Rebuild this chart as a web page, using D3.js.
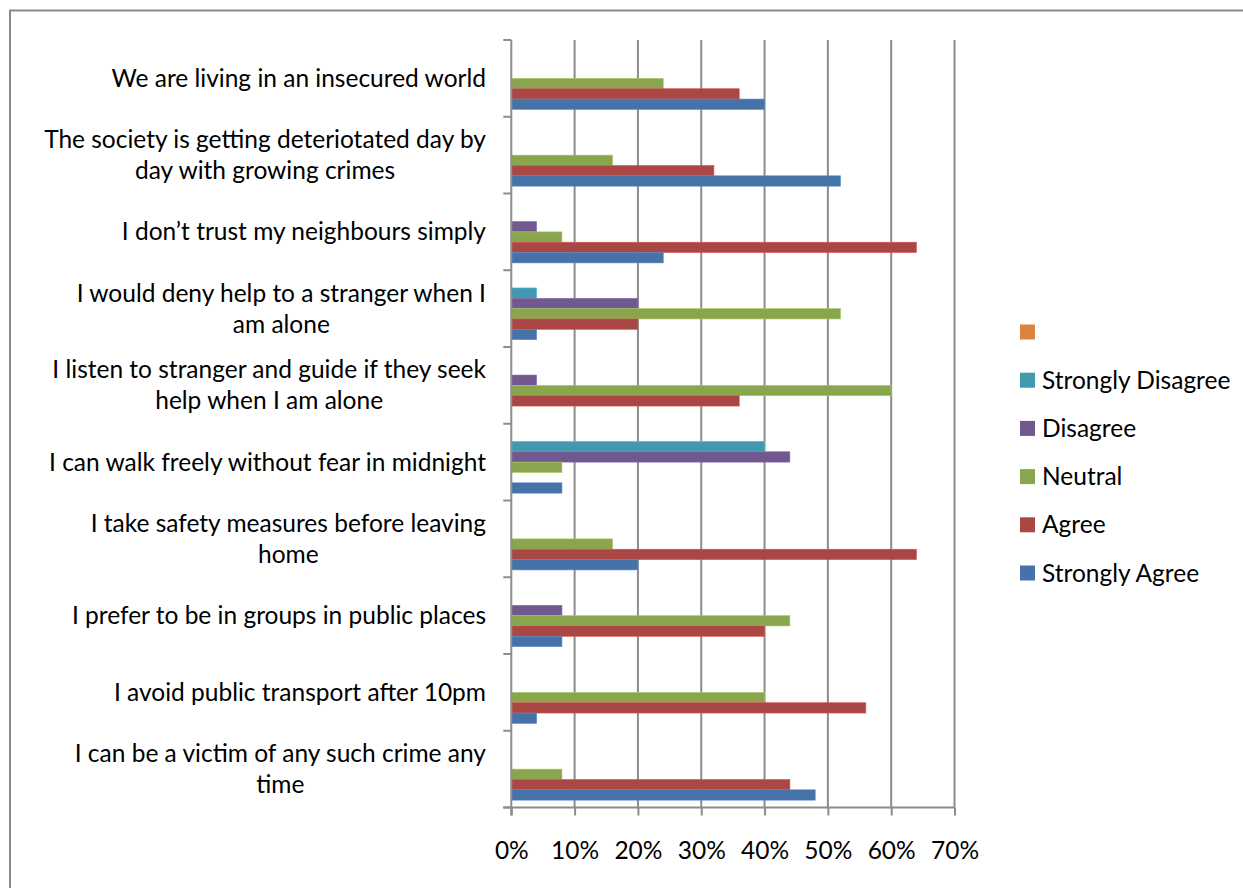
<!DOCTYPE html>
<html>
<head>
<meta charset="utf-8">
<script src="https://cdn.jsdelivr.net/npm/d3@7"></script>
<style>
  html, body { margin: 0; padding: 0; background: #fff; }
  svg { display: block; font-family: Lato, "Open Sans", sans-serif; }
</style>
</head>
<body>
<svg id="chart" width="1243" height="888"></svg>
<script>
// Statements, top to bottom; "\n" marks where a label wraps
const categories = [
  "We are living in an insecured world",
  "The society is getting deteriotated day by\nday with growing crimes",
  "I don\u2019t trust my neighbours simply",
  "I would deny help to a stranger when I\nam alone",
  "I listen to stranger and guide if they seek\nhelp when I am alone",
  "I can walk freely without fear in midnight",
  "I take safety measures before leaving\nhome",
  "I prefer to be in groups in public places",
  "I avoid public transport after 10pm",
  "I can be a victim of any such crime any\ntime"
];

// Series names (legend order, top to bottom) and the share of responses
const seriesNames = ["", "Strongly Disagree", "Disagree", "Neutral", "Agree", "Strongly Agree"];
const blankSeries      = [0, 0, 0, 0, 0, 0, 0, 0, 0, 0];
const stronglyDisagree = [0, 0, 0, 0.04, 0, 0.40, 0, 0, 0, 0];
const disagree         = [0, 0, 0.04, 0.20, 0.04, 0.44, 0, 0.08, 0, 0];
const neutral          = [0.24, 0.16, 0.08, 0.52, 0.60, 0.08, 0.16, 0.44, 0.40, 0.08];
const agree            = [0.36, 0.32, 0.64, 0.20, 0.36, 0, 0.64, 0.40, 0.56, 0.44];
const stronglyAgree    = [0.40, 0.52, 0.24, 0.04, 0, 0.08, 0.20, 0.08, 0.04, 0.48];
const seriesValues = [blankSeries, stronglyDisagree, disagree, neutral, agree, stronglyAgree];
const seriesColors = ["#DB843D", "#4198AF", "#71588F", "#89A54E", "#AA4643", "#4572A7"];

const xTicks = [0, 0.1, 0.2, 0.3, 0.4, 0.5, 0.6, 0.7];

const fontSize = 24.5;
const svg = d3.select("#chart");

// Outer chart frame (runs off the right and bottom edges)
svg.append("rect")
  .attr("x", 10).attr("y", 10.5)
  .attr("width", 1260).attr("height", 900)
  .attr("fill", "none").attr("stroke", "#8a8a8a").attr("stroke-width", 2);

const plot = { left: 511.3, right: 954.5, top: 40, bottom: 807.5 };

const x = d3.scaleLinear().domain([0, 0.7]).range([plot.left, plot.right]);
const y = d3.scaleBand().domain(d3.range(categories.length))
  .range([plot.top, plot.bottom]).paddingInner(0).paddingOuter(0);
// within each category, the blank series sits on top and Strongly Agree at the bottom
const ySub = d3.scaleBand().domain(d3.range(seriesNames.length))
  .range([0, y.bandwidth()]).paddingInner(0).paddingOuter(0.71);

const gridColor = "#8c8c8c";

// Vertical gridlines
svg.append("g").selectAll("line").data(xTicks.slice(1)).join("line")
  .attr("x1", d => x(d)).attr("x2", d => x(d))
  .attr("y1", plot.top).attr("y2", plot.bottom)
  .attr("stroke", gridColor).attr("stroke-width", 2);

// Bars
const barsG = svg.append("g");
seriesValues.forEach((vals, s) => {
  barsG.append("g").selectAll("rect").data(vals).join("rect")
    .attr("x", x(0))
    .attr("y", (d, i) => y(i) + ySub(s))
    .attr("width", d => x(d) - x(0))
    .attr("height", ySub.bandwidth())
    .attr("fill", seriesColors[s])
    .attr("stroke", d3.color(seriesColors[s]).brighter(0.6))
    .attr("stroke-width", d => d > 0 ? 0.6 : 0);
});

// Vertical (category) axis with ticks at band boundaries
const yAxisG = svg.append("g");
yAxisG.append("line")
  .attr("x1", plot.left).attr("x2", plot.left)
  .attr("y1", plot.top).attr("y2", plot.bottom + 8)
  .attr("stroke", gridColor).attr("stroke-width", 2);
yAxisG.selectAll("line.tick").data(d3.range(categories.length + 1)).join("line")
  .attr("class", "tick")
  .attr("x1", plot.left - 8).attr("x2", plot.left)
  .attr("y1", i => plot.top + i * y.step()).attr("y2", i => plot.top + i * y.step())
  .attr("stroke", gridColor).attr("stroke-width", 2);

// Horizontal (value) axis
const xAxis = d3.axisBottom(x).tickValues(xTicks).tickFormat(d3.format(".0%"))
  .tickSizeInner(8).tickSizeOuter(0).tickPadding(26);
const xAxisG = svg.append("g").attr("transform", `translate(0,${plot.bottom})`).call(xAxis);
xAxisG.select(".domain").attr("stroke", gridColor).attr("stroke-width", 2)
  .attr("d", `M${plot.left - 8},0H${plot.right}`);
xAxisG.selectAll(".tick line").attr("stroke", gridColor).attr("stroke-width", 2);
xAxisG.selectAll(".tick text")
  .attr("font-family", "Lato, 'Open Sans', sans-serif")
  .attr("font-size", fontSize).attr("fill", "#000");

// Category labels: block right-aligned, wrapped lines centred on each other
const labelRight = 486;
const lineHeight = 31;
const labelsG = svg.append("g").attr("font-size", fontSize).attr("fill", "#000");
categories.forEach((label, i) => {
  const lines = label.split("\n");
  const cy = y(i) + y.bandwidth() / 2;
  const texts = lines.map((ln, k) => labelsG.append("text")
    .attr("y", cy + (k - (lines.length - 1) / 2) * lineHeight)
    .attr("dy", "0.35em")
    .text(ln));
  const widths = texts.map(t => t.node().getComputedTextLength());
  const maxW = d3.max(widths);
  const cx = labelRight - maxW / 2;
  texts.forEach(t => t.attr("x", cx).attr("text-anchor", "middle"));
});

// Legend
const legend = svg.append("g").attr("font-size", fontSize).attr("fill", "#000");
seriesNames.forEach((name, s) => {
  const cy = 332 + s * 48.2;
  legend.append("rect")
    .attr("x", 1020).attr("y", cy - 7.5)
    .attr("width", 15).attr("height", 15)
    .attr("fill", seriesColors[s]);
  legend.append("text")
    .attr("x", 1042).attr("y", cy).attr("dy", "0.35em")
    .text(name);
});
</script>
</body>
</html>
